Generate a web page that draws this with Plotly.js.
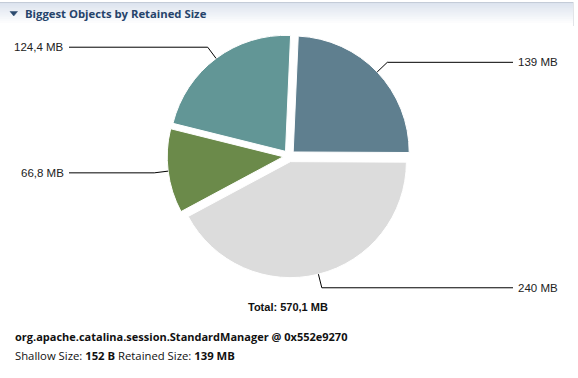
<!DOCTYPE html>
<html>
<head>
<meta charset="utf-8">
<script src="https://cdn.plot.ly/plotly-3.0.1.min.js"></script>
<style>
html,body{margin:0;padding:0;background:#fff;}
#chart{width:578px;height:378px;}
</style>
</head>
<body>
<div id="chart"></div>
<script>
// ---- data ----
const sliceLabels = ['139 MB', '240 MB', '66,8 MB', '124,4 MB'];
const sliceValues = [139, 240, 66.8, 124.4];
const sliceColors = ['#5f7f8f', '#dcdcdc', '#6b8a4a', '#629696'];
const chartTitle = 'Biggest Objects by Retained Size';
const totalText = 'Total: 570,1 MB';
const objectName = 'org.apache.catalina.session.StandardManager @ 0x552e9270';
const shallowSize = '152 B';
const retainedSize = '139 MB';

// ---- layout constants ----
const W = 578, H = 378;
const CX = 289, CY = 156, R = 116, PULL = 0.05, ROT = 2.5;
const maxR = R * (1 + PULL);
const px = x => x / W;
const py = y => 1 - y / H;

const trace = {
  type: 'pie',
  values: sliceValues,
  labels: sliceLabels,
  marker: {colors: sliceColors, line: {color: '#ffffff', width: 1}},
  sort: false,
  direction: 'clockwise',
  rotation: ROT,
  pull: sliceValues.map(() => PULL),
  textinfo: 'none',
  hoverinfo: 'none',
  showlegend: false,
  domain: {x: [px(CX - maxR), px(CX + maxR)], y: [py(CY + maxR), py(CY - maxR)]}
};

// leader lines and labels computed from the slice values
const total = sliceValues.reduce((a, b) => a + b, 0);
const shapes = [];
const annotations = [];
let acc = 0;
sliceValues.forEach((v, i) => {
  const mid = (ROT + (acc + v / 2) / total * 360) * Math.PI / 180;
  acc += v;
  const s = Math.sin(mid), c = Math.cos(mid);
  const ox = CX + s * R * PULL, oy = CY - c * R * PULL;
  const ex = ox + s * R, ey = oy - c * R;
  const bx = ox + s * (R + 14), by = oy - c * (R + 14);
  const right = s >= 0;
  const colX = right ? 513 : 69;
  shapes.push({
    type: 'path', xref: 'paper', yref: 'paper',
    path: `M ${px(ex)},${py(ey)} L ${px(bx)},${py(by)} L ${px(colX)},${py(by)}`,
    line: {color: '#000000', width: 1}
  });
  annotations.push({
    xref: 'paper', yref: 'paper', x: px(right ? colX + 3 : colX - 3), y: py(by),
    xanchor: right ? 'left' : 'right', yanchor: 'middle', showarrow: false,
    text: sliceLabels[i],
    font: {family: 'Liberation Sans, Arial, sans-serif', size: 11.5, color: '#222222'}
  });
});

// header gradient band
const bandTop = 2, bandBottom = 25;
const steps = 12;
for (let k = 0; k < steps; k++) {
  const t = k / (steps - 1);
  const r0 = Math.round(220 + (255 - 220) * t);
  const g0 = Math.round(227 + (255 - 227) * t);
  const b0 = Math.round(238 + (255 - 238) * t);
  const y0 = bandTop + (bandBottom - bandTop) * k / steps;
  const y1 = bandTop + (bandBottom - bandTop) * (k + 1) / steps;
  shapes.push({type: 'rect', xref: 'paper', yref: 'paper', layer: 'below',
    x0: 0, x1: px(573), y0: py(y0), y1: py(y1 + 0.5),
    fillcolor: `rgb(${r0},${g0},${b0})`, line: {width: 0}});
}
shapes.push({type: 'line', xref: 'paper', yref: 'paper', layer: 'below',
  x0: 0, x1: px(573), y0: py(2.5), y1: py(2.5), line: {color: '#c4ccd8', width: 1}});
shapes.push({type: 'line', xref: 'paper', yref: 'paper', layer: 'below',
  x0: px(573.5), x1: px(573.5), y0: py(2), y1: py(26), line: {color: '#e2e4e8', width: 1}});
// collapse triangle icon
shapes.push({type: 'path', xref: 'paper', yref: 'paper',
  path: `M ${px(10)},${py(11.5)} L ${px(17.5)},${py(11.5)} L ${px(13.75)},${py(16)} Z`,
  fillcolor: '#2b4a6e', line: {color: '#2b4a6e', width: 0.5}});

annotations.push({
  xref: 'paper', yref: 'paper', x: px(23), y: py(14), xanchor: 'left', yanchor: 'middle',
  showarrow: false, text: '<b>' + chartTitle + '</b>',
  font: {family: 'Open Sans, sans-serif', size: 11.3, color: '#26446b'}
});
annotations.push({
  xref: 'paper', yref: 'paper', x: px(288), y: py(307), xanchor: 'center', yanchor: 'middle',
  showarrow: false, text: '<b>' + totalText + '</b>',
  font: {family: 'Liberation Sans, Arial, sans-serif', size: 11, color: '#111111'}
});
annotations.push({
  xref: 'paper', yref: 'paper', x: px(13), y: py(336), xanchor: 'left', yanchor: 'middle',
  showarrow: false, text: '<b>' + objectName + '</b>',
  font: {family: 'Open Sans, sans-serif', size: 11, color: '#111111'}
});
annotations.push({
  xref: 'paper', yref: 'paper', x: px(13), y: py(355), xanchor: 'left', yanchor: 'middle',
  showarrow: false,
  text: 'Shallow Size: <b>' + shallowSize + '</b> Retained Size: <b>' + retainedSize + '</b>',
  font: {family: 'Open Sans, sans-serif', size: 11.3, color: '#111111'}
});

const layout = {
  width: W, height: H,
  margin: {l: 0, r: 0, t: 0, b: 0},
  paper_bgcolor: '#ffffff', plot_bgcolor: '#ffffff',
  showlegend: false,
  shapes: shapes,
  annotations: annotations
};

Plotly.newPlot('chart', [trace], layout, {displayModeBar: false, staticPlot: true});
</script>
</body>
</html>
